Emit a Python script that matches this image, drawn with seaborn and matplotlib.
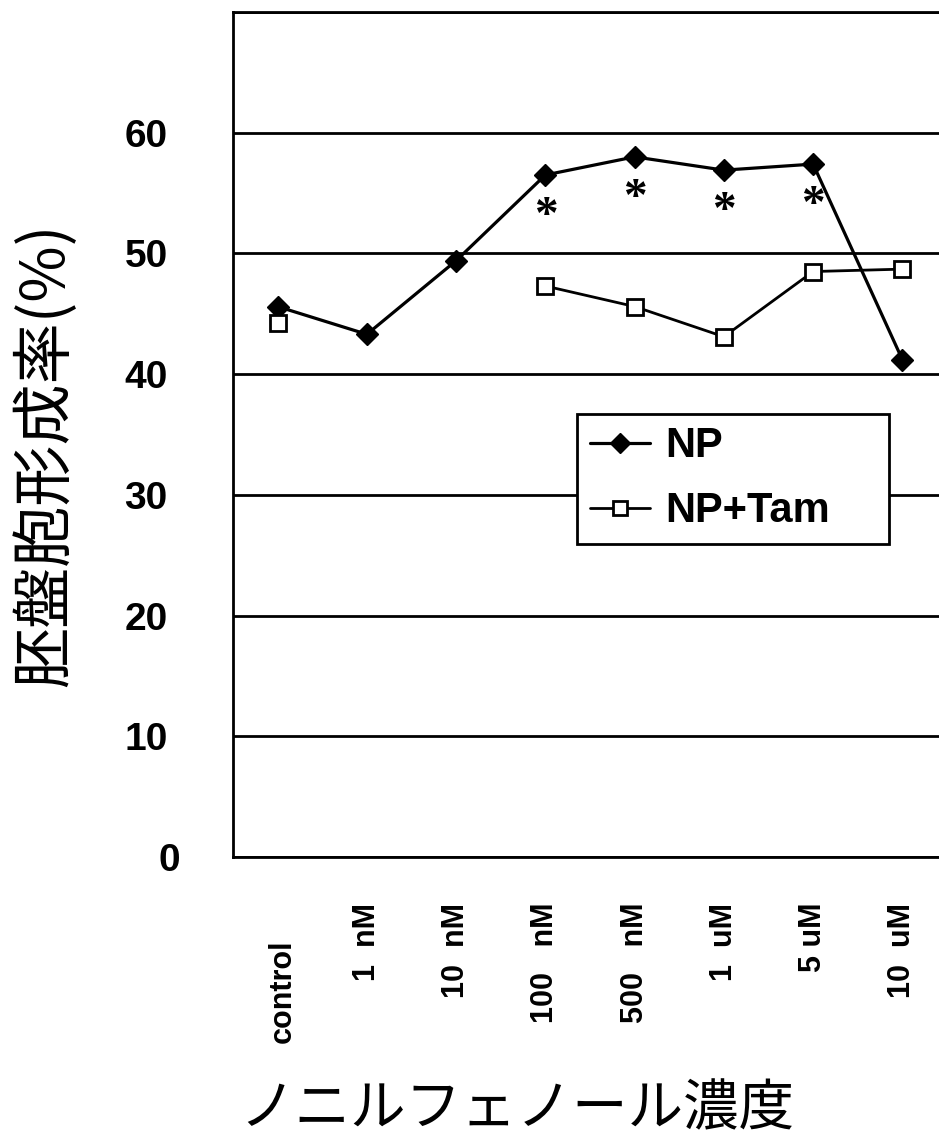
import numpy as np
import pandas as pd
import seaborn as sns
import matplotlib.pyplot as plt
from matplotlib.transforms import ScaledTranslation

# concentrations of nonylphenol (x categories)
categories = ["control", "1  nM", "10  nM", "100   nM", "500   nM", "1  uM", "5 uM", "10  uM"]
np_rate = [45.6, 43.3, 49.4, 56.5, 58.0, 56.9, 57.4, 41.2]        # NP
tam_rate = [44.2, np.nan, np.nan, 47.3, 45.6, 43.1, 48.5, 48.7]    # NP+Tam
significant = [False, False, False, True, True, True, True, False]  # * marks
y_ticks = [0, 10, 20, 30, 40, 50, 60]

sns.set_style("white")
plt.rcParams['font.family'] = ['Liberation Sans', 'Noto Sans CJK JP']
plt.rcParams['text.color'] = 'black'
plt.rcParams['xtick.color'] = 'black'
plt.rcParams['ytick.color'] = 'black'
plt.rcParams['axes.labelcolor'] = 'black'

pos = np.arange(len(categories))
np_df = pd.DataFrame({"pos": pos, "rate": np_rate})
tam_df = pd.DataFrame({"pos": pos, "rate": tam_rate})
tam_df["seg"] = np.cumsum(tam_df["rate"].isna())   # break line where data missing
tam_df = tam_df.dropna()

fig = plt.figure(figsize=(9.39, 11.43), dpi=100)
ax = fig.add_axes([233 / 939, 1 - 857 / 1143, 714 / 939, 845 / 1143])

sns.lineplot(data=np_df, x="pos", y="rate", ax=ax, color="black", lw=2.3,
             marker="D", markersize=11, markerfacecolor="black",
             markeredgecolor="black", markeredgewidth=1)
sns.lineplot(data=tam_df, x="pos", y="rate", units="seg", estimator=None, ax=ax,
             color="black", lw=2.0, marker="s", markersize=11.5,
             markerfacecolor="white", markeredgecolor="black", markeredgewidth=2)

# significance asterisks under NP points
for x, y, s in zip(pos, np_rate, significant):
    if s:
        ax.annotate("*", (x, y), xytext=(0, -30), textcoords="offset points",
                    ha="center", va="center", fontsize=34, fontweight="bold",
                    family="Liberation Serif", color="black")

ax.set_xlim(-0.5, len(categories) - 0.5)
ax.set_ylim(0, 70)
ax.set_xlabel("")
ax.set_ylabel("")

ax.set_yticks(y_ticks + [70])
ax.set_yticklabels([str(t) for t in y_ticks] + [""], fontsize=28, fontweight="bold")
ax.yaxis.grid(True, color="black", lw=2)
ax.tick_params(axis="y", length=0, pad=47, labelcolor="black")
zero = ax.get_yticklabels()[0]
zero.set_transform(zero.get_transform() + ScaledTranslation(0.12, 0, fig.dpi_scale_trans))

ax.set_xticks(pos)
ax.set_xticklabels(categories, rotation=90, fontsize=22, fontweight="bold", va="top")
ax.set_xticks(pos + 0.5, minor=True)
ax.tick_params(axis="x", which="major", length=0, pad=33, labelcolor="black")
ax.tick_params(axis="x", which="minor", direction="in", length=10, width=1.5, color="black")
ctrl = ax.get_xticklabels()[0]
ctrl.set_transform(ctrl.get_transform() + ScaledTranslation(0.05, -0.37, fig.dpi_scale_trans))

for side in ["left", "bottom", "top"]:
    ax.spines[side].set_color("black")
    ax.spines[side].set_linewidth(2)
ax.spines["right"].set_visible(False)

leg = ax.legend(handles=[ax.lines[0], ax.lines[1]], labels=["NP", "NP+Tam"],
                loc="upper left", bbox_to_anchor=(577 / 939, 1 - 415 / 1143, 312 / 939, 0.001),
                bbox_transform=fig.transFigure, mode="expand",
                prop={"family": "Liberation Sans", "weight": "bold", "size": 30},
                handlelength=1.45, handletextpad=0.38, borderpad=0.3, labelspacing=0.6,
                markerscale=0.9, fancybox=False, framealpha=1, borderaxespad=0)
leg.get_frame().set_edgecolor("black")
leg.get_frame().set_linewidth(2)
for t in leg.get_texts():
    t.set_color("black")

fig.text(45 / 939, 1 - 455 / 1143, "胚盤胞形成率(%)", rotation=90, ha="center",
         va="center", fontsize=44, color="black", family=["Noto Sans CJK JP", "DejaVu Sans"])
fig.text(517 / 939, 1 - 1110 / 1143, "ノニルフェノール濃度", ha="center",
         va="center", fontsize=40, color="black", family=["Noto Sans CJK JP", "DejaVu Sans"])

fig.savefig("out.png", dpi=100)
